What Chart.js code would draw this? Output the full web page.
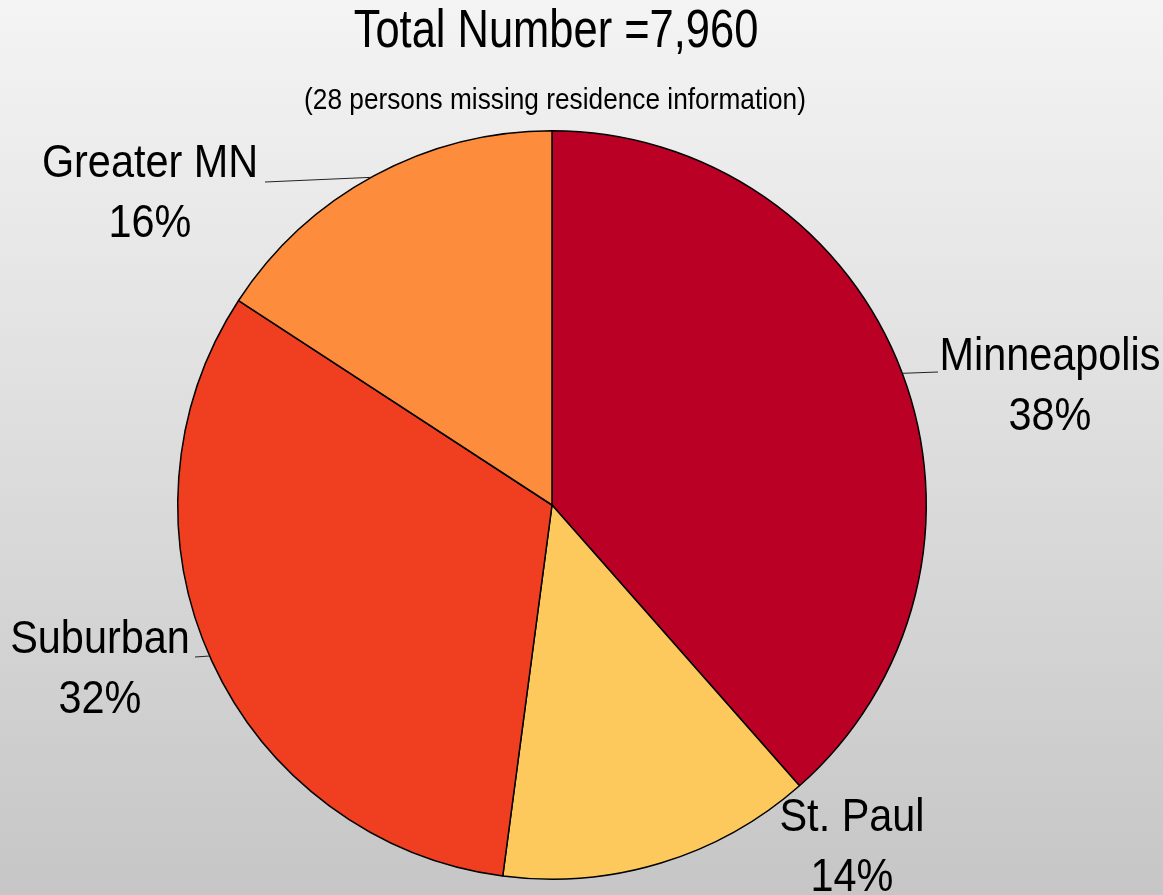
<!DOCTYPE html>
<html>
<head>
<meta charset="utf-8">
<script src="https://cdn.jsdelivr.net/npm/chart.js@4"></script>
<style>
  html, body { margin: 0; padding: 0; }
  body { width: 1163px; height: 895px; background: linear-gradient(#f4f4f4, #c6c6c6); overflow: hidden; }
  #wrap { position: relative; width: 1163px; height: 895px; }
</style>
</head>
<body>
<div id="wrap"><canvas id="pie"></canvas></div>
<script>
// residence split
const regions = ['Minneapolis', 'St. Paul', 'Suburban', 'Greater MN'];
const shares = [38.5, 13.6, 32.1, 15.8];
const shareLabels = ['38%', '14%', '32%', '16%'];
const sliceColors = ['#bb0026', '#fec95c', '#f03e21', '#fd8c3c'];
const titleText = 'Total Number =7,960';
const subtitleText = '(28 persons missing residence information)';

const FONT = '"Liberation Sans", Arial, sans-serif';

// label placement: text centre, and leader line (angle on rim in degrees from top, end point)
const labelLayout = [
    { x: 1050, y: 357, leader: { deg: 69.4, toX: 938, toY: 372 } },
    { x: 852, y: 818, leader: null },
    { x: 100, y: 640, leader: { deg: 246.2, toX: 195, toY: 657 } },
    { x: 150, y: 164, leader: { deg: 331.1, toX: 265, toY: 182 } },
];

// no narrow font installed, so squeeze a regular one sideways
function narrowText(ctx, text, x, y, size, squeeze) {
    ctx.save();
    ctx.translate(x, y);
    ctx.scale(squeeze, 1);
    ctx.font = size + 'px ' + FONT;
    ctx.fillText(text, 0, 0);
    ctx.restore();
}

const textPlugin = {
    id: 'textPlugin',
    afterDraw(chart) {
        const ctx = chart.ctx;
        ctx.save();
        ctx.fillStyle = '#000';
        ctx.textAlign = 'center';
        ctx.textBaseline = 'middle';
        narrowText(ctx, titleText, 556, 32, 53, 0.82);
        narrowText(ctx, subtitleText, 555, 101, 30, 0.875);

        const arcs = chart.getDatasetMeta(0).data;
        arcs.forEach((arc, i) => {
            const lay = labelLayout[i];
            if (lay.leader) {
                const a = (lay.leader.deg - 90) * Math.PI / 180;
                const sx = arc.x + arc.outerRadius * Math.cos(a);
                const sy = arc.y + arc.outerRadius * Math.sin(a);
                ctx.strokeStyle = '#222';
                ctx.lineWidth = 1;
                ctx.beginPath();
                ctx.moveTo(sx, sy);
                ctx.lineTo(lay.leader.toX, lay.leader.toY);
                ctx.stroke();
            }
            narrowText(ctx, regions[i], lay.x, lay.y, 46, 0.9);
            narrowText(ctx, shareLabels[i], lay.x, lay.y + 60, 46, 0.9);
        });
        ctx.restore();
    }
};

new Chart(document.getElementById('pie'), {
    type: 'pie',
    data: {
        labels: regions,
        datasets: [{
            data: shares,
            backgroundColor: sliceColors,
            borderColor: '#000',
            borderWidth: 1.5,
        }],
    },
    options: {
        responsive: true, maintainAspectRatio: false, animation: false,
        layout: { padding: { left: 177, right: 236, top: 130, bottom: 15 } },
        plugins: { legend: { display: false }, tooltip: { enabled: false } },
    },
    plugins: [textPlugin],
});
</script>
</body>
</html>
